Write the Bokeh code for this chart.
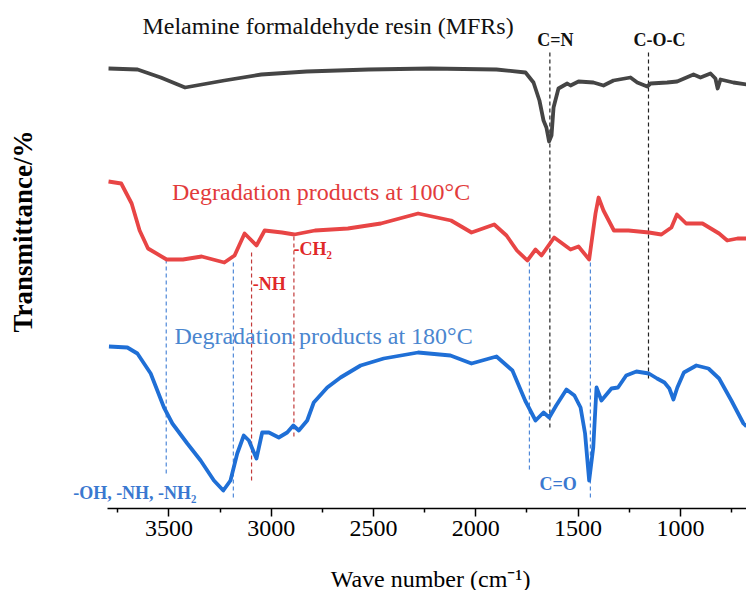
import math

from bokeh.plotting import figure
from bokeh.models import Range1d, FixedTicker, Label
from bokeh.embed import file_html
from bokeh.resources import INLINE

# FTIR spectra: wavenumber (cm-1) and transmittance (a.u., curves stacked)
mfr_wn = [3795, 3653, 3540, 3421, 3229, 3048, 2827, 2524, 2221, 1899, 1757, 1718,
          1689, 1669, 1655, 1642, 1630, 1620, 1596, 1553, 1537, 1498, 1425, 1376,
          1327, 1244, 1211, 1162, 1146, 1065, 1016, 936, 902, 853, 829, 818, 804,
          741, 677]
mfr_t = [440, 439, 431, 421, 428, 434, 437, 439, 440, 439, 436, 426,
         408, 388, 381, 367, 373, 401, 420, 425, 423, 427, 426, 423,
         428, 431, 426, 422, 425, 426, 427, 434, 431, 435, 430, 420, 429,
         426, 424]

deg100_wn = [3795, 3733, 3682, 3643, 3602, 3511, 3431, 3340, 3229, 3179, 3130,
             3072, 3032, 2947, 2887, 2786, 2625, 2464, 2282, 2121, 2021, 1910,
             1850, 1799, 1748, 1708, 1679, 1617, 1537, 1498, 1446, 1415, 1400,
             1376, 1325, 1254, 1154, 1093, 1044, 1017, 972, 892, 811, 771, 721, 677]
deg100_t = [327, 325, 305, 278, 260, 249, 249, 252, 246, 253, 275,
            263, 278, 276, 274, 278, 280, 285, 295, 288, 276, 284,
            273, 258, 248, 259, 253, 271, 259, 262, 249, 295, 311,
            298, 278, 278, 276, 274, 281, 294, 285, 285, 275, 268, 270, 270]

deg180_wn = [3793, 3703, 3654, 3589, 3524, 3483, 3410, 3345, 3280, 3234, 3199,
             3166, 3134, 3109, 3072, 3044, 3011, 2963, 2922, 2892, 2865, 2824,
             2792, 2726, 2661, 2563, 2450, 2282, 2124, 2021, 1899, 1821, 1759,
             1708, 1669, 1641, 1607, 1557, 1518, 1488, 1466, 1446, 1426, 1410,
             1386, 1337, 1305, 1265, 1215, 1154, 1114, 1078, 1054, 1034, 1015,
             983, 922, 863, 811, 751, 692, 677]
deg180_t = [162, 161, 155, 135, 101, 85, 65, 48, 28, 18, 28,
            55, 73, 68, 50, 76, 76, 71, 76, 83, 78, 88,
            106, 121, 131, 143, 150, 156, 153, 145, 152, 138, 108,
            88, 96, 91, 103, 119, 113, 101, 75, 28, 61, 121,
            108, 120, 121, 133, 137, 135, 130, 126, 120, 109, 121,
            136, 143, 140, 130, 108, 85, 82]

# Band assignments marked with dashed guide lines: (wavenumber, top, bottom)
band_cn = (1638, 456, 80)
band_coc = (1156, 456, 128)
bands_blue = [(3513, 249, 35), (3185, 246, 10), (1738, 246, 38), (1440, 246, 8)]
bands_red = [(3096, 256, 28), (2889, 272, 70)]

x_ticks = [1000, 1500, 2000, 2500, 3000, 3500]
x_minor = [750, 1250, 1750, 2250, 2750, 3250, 3750]
x_bounds = (677, 3800)

SERIF = "Liberation Serif"
GRAY = "#454545"
RED = "#e84545"
BLUE = "#1f6fd6"

# the frame fills the whole canvas; the x axis is pinned at transmittance 0
p = figure(width=746, height=590, output_backend="svg", toolbar_location=None,
           x_range=Range1d(4323, 677), y_range=Range1d(-82, 508),
           min_border_left=0, min_border_right=0, min_border_top=0,
           min_border_bottom=0)
p.outline_line_color = None
p.xgrid.visible = False
p.ygrid.visible = False
p.yaxis.visible = False
p.background_fill_color = "white"

xa = p.xaxis[0]
xa.fixed_location = 0
xa.bounds = x_bounds
xa.ticker = FixedTicker(ticks=x_ticks, minor_ticks=x_minor)
xa.axis_line_color = "black"
xa.axis_line_width = 1.5
xa.major_tick_in = 0
xa.major_tick_out = 8
xa.minor_tick_in = 0
xa.minor_tick_out = 4
xa.major_tick_line_width = 1.5
xa.minor_tick_line_width = 1.5
xa.major_label_text_font = SERIF
xa.major_label_text_font_size = "24px"
xa.major_label_text_color = "black"
xa.major_label_standoff = 4

# dashed guides
for wn, y0, y1 in [band_cn, band_coc]:
    p.segment(x0=[wn], y0=[y0], x1=[wn], y1=[y1], line_color="#222222",
              line_width=1.2, line_dash="4 3")
for wn, y0, y1 in bands_blue:
    p.segment(x0=[wn], y0=[y0], x1=[wn], y1=[y1], line_color="#4f88d8",
              line_width=1.2, line_dash="4 3")
for wn, y0, y1 in bands_red:
    p.segment(x0=[wn], y0=[y0], x1=[wn], y1=[y1], line_color="#c23a3a",
              line_width=1.2, line_dash="4 3")

# spectra
p.line(mfr_wn, mfr_t, line_color=GRAY, line_width=3.8, line_join="round")
p.line(deg100_wn, deg100_t, line_color=RED, line_width=3.8, line_join="round")
p.line(deg180_wn, deg180_t, line_color=BLUE, line_width=3.8, line_join="round")


def add_label(x, y, text, color, size, bold=False, align="center", angle=0.0):
    p.add_layout(Label(x=x, y=y, text=text, text_color=color,
                       text_font=SERIF, text_font_size=size,
                       text_font_style="bold" if bold else "normal",
                       text_align=align, text_baseline="middle", angle=angle))


# axis titles
add_label(2221, -70, "Wave number (cm\u207b\u00b9)", "black", "24px")
add_label(4215, 277, "Transmittance/%", "black", "27px", bold=True,
          angle=math.pi / 2)

# spectrum captions and band assignments
add_label(2722, 483, "Melamine formaldehyde resin (MFRs)", "#111111", "24px")
add_label(1611, 469, "C=N", "#111111", "18px", bold=True)
add_label(1102, 469, "C-O-C", "#111111", "18px", bold=True)
add_label(2756, 317, "Degradation products at 100\u00b0C", "#e23b3b", "24px")
add_label(3010, 225, "-NH", "#e02828", "18px", bold=True)
add_label(2891, 260, "-CH\u2082", "#e02828", "18px", bold=True, align="left")
add_label(2744, 173, "Degradation products at 180\u00b0C", "#4a86cf", "24px")
add_label(3365, 16, "-OH, -NH, -NH\u2082", "#3a78d0", "18px", bold=True, align="right")
add_label(1598, 25, "C=O", "#3a78d0", "18px", bold=True)

open("out.html", "w").write(file_html(p, INLINE))
